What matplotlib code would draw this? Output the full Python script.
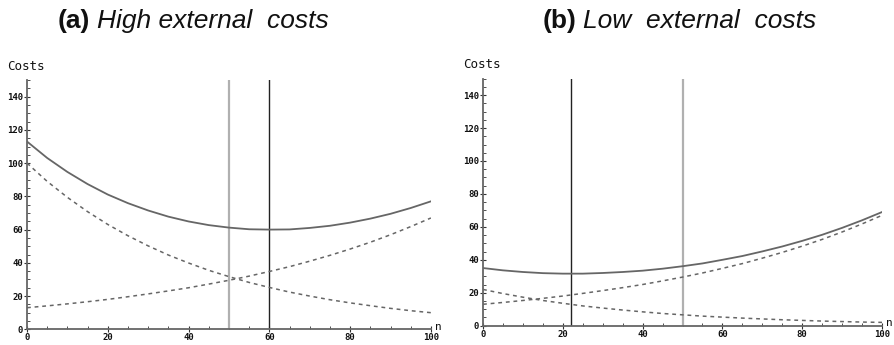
import matplotlib
matplotlib.use("Agg")
import matplotlib.pyplot as plt
from matplotlib.ticker import MultipleLocator

# values, every 5 units of n
n = [0, 5, 10, 15, 20, 25, 30, 35, 40, 45, 50,
     55, 60, 65, 70, 75, 80, 85, 90, 95, 100]

# rising cost (same in both panels)
rising = [13, 14.1, 15.3, 16.6, 18, 19.6, 21.3, 23.1, 25, 27.2, 29.5,
          32, 34.8, 37.7, 41, 44.5, 48.3, 52.4, 56.9, 61.8, 67]

# (a) high external costs
falling_a = [100, 89, 79.4, 70.8, 63.1, 56.3, 50.2, 44.7, 39.9, 35.5, 31.7,
             28.2, 25.2, 22.4, 20, 17.8, 15.9, 14.2, 12.6, 11.2, 10]
total_a = [113, 103.1, 94.7, 87.4, 81.1, 75.9, 71.5, 67.8, 64.9, 62.7, 61.2,
           60.2, 60, 60.1, 61, 62.3, 64.2, 66.6, 69.5, 73, 77]
vlines_a = [(50, "#b0b0b0", 1.6), (60, "#222222", 1.0)]

# (b) low external costs
falling_b = [22, 19.5, 17.3, 15.3, 13.6, 12, 10.7, 9.5, 8.4, 7.4, 6.6,
             5.8, 5.2, 4.6, 4.1, 3.6, 3.2, 2.8, 2.5, 2.2, 2]
total_b = [35, 33.6, 32.6, 31.9, 31.6, 31.6, 32, 32.6, 33.4, 34.6, 36.1,
           37.8, 40, 42.3, 45.1, 48.1, 51.5, 55.2, 59.4, 64, 69]
vlines_b = [(22, "#222222", 1.0), (50, "#b0b0b0", 1.6)]

fig = plt.figure(figsize=(8.94, 3.45), dpi=100)
ax_a = fig.add_axes([0.0302, 0.0455, 0.4518, 0.7225])
ax_b = fig.add_axes([0.5403, 0.056, 0.4463, 0.716])

mono = "DejaVu Sans Mono"


def draw_panel(ax, falling, total, vlines):
    for x, col, lw in vlines:
        ax.axvline(x, ymin=0, ymax=1, color=col, lw=lw, zorder=2)
    ax.plot(n, total, color="#666666", lw=1.3, zorder=3)
    ax.plot(n, falling, color="#666666", lw=1.1, ls=(0, (2.5, 2.5)), zorder=3)
    ax.plot(n, rising, color="#666666", lw=1.1, ls=(0, (2.5, 2.5)), zorder=3)
    ax.set_xlim(0, 100)
    ax.set_ylim(0, 150)
    for s in ("top", "right"):
        ax.spines[s].set_visible(False)
    for s in ("left", "bottom"):
        ax.spines[s].set_color("#666666")
        ax.spines[s].set_linewidth(1.3)
    ax.xaxis.set_major_locator(MultipleLocator(20))
    ax.xaxis.set_minor_locator(MultipleLocator(5))
    ax.yaxis.set_major_locator(MultipleLocator(20))
    ax.yaxis.set_minor_locator(MultipleLocator(5))
    ax.tick_params(which="major", direction="inout", length=4, width=0.8,
                   colors="#333333", labelsize=6.5, pad=1)
    ax.tick_params(which="minor", direction="in", length=2, width=0.6,
                   colors="#333333")
    ax.set_yticks([0, 20, 40, 60, 80, 100, 120, 140])
    for lab in ax.get_xticklabels() + ax.get_yticklabels():
        lab.set_fontfamily(mono)
        lab.set_fontweight("bold")
        lab.set_color("#111111")
    ax.text(-0.05, 1.03, "Costs", transform=ax.transAxes, ha="left",
            va="bottom", fontsize=9, family=mono, color="#111111")
    ax.text(1.01, -0.01, "n", transform=ax.transAxes, ha="left",
            va="bottom", fontsize=8, family=mono, color="#111111")


draw_panel(ax_a, falling_a, total_a, vlines_a)
draw_panel(ax_b, falling_b, total_b, vlines_b)

title_font = ["Liberation Sans", "DejaVu Sans"]
fig.text(0.0649, 0.919, "(a)", fontsize=19, fontweight="bold",
         family=title_font, va="baseline", color="#111111")
fig.text(0.1085, 0.919, "High external  costs", fontsize=19,
         style="italic", family=title_font, va="baseline", color="#111111")
fig.text(0.6074, 0.919, "(b)", fontsize=19, fontweight="bold",
         family=title_font, va="baseline", color="#111111")
fig.text(0.652, 0.919, "Low  external  costs", fontsize=19,
         style="italic", family=title_font, va="baseline", color="#111111")

fig.savefig("out.png", dpi=100)
